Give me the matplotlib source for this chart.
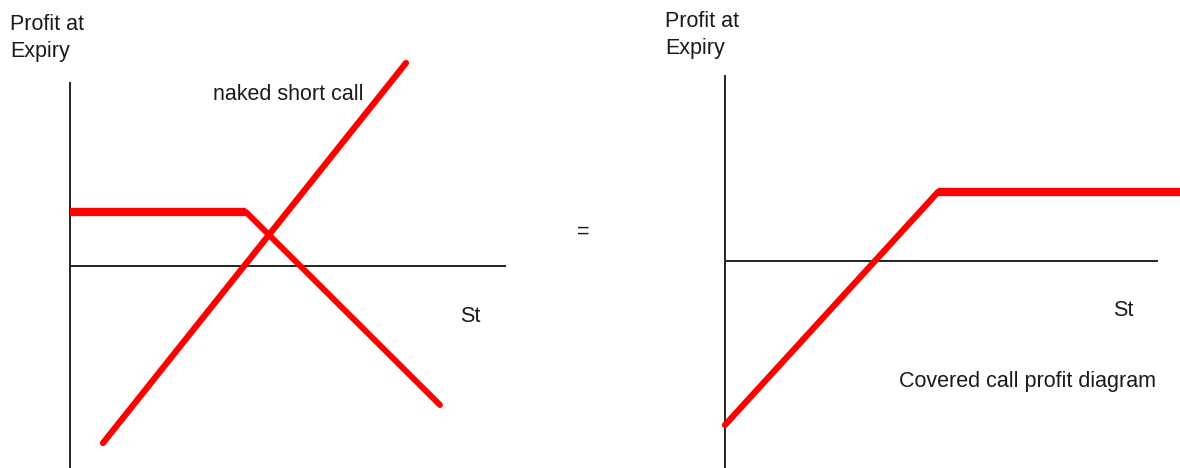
import numpy as np
import matplotlib
matplotlib.use("Agg")
import matplotlib.pyplot as plt

plt.rcParams["font.family"] = ["Liberation Sans", "DejaVu Sans"]

# values (St on x, profit at expiry on y)
short_call_x = [0.0, 17.6, 37.0]
short_call_y = [5.4, 5.4, -13.9]
stock_x = [3.3, 33.6]
stock_y = [-17.7, 20.3]
covered_x = [0.0, 21.3, 46.0]
covered_y = [-16.4, 6.9, 6.9]

W, H = 1180, 468
fig = plt.figure(figsize=(W / 100, H / 100), dpi=100)

RED = "#ff0000"
AX = "#222222"
TXT = "#1a1a1a"
FS = 15.5


def panel(x0, x1, ox, oy, ytop, xend):
    # axes covering pixel columns x0..x1, 10 px per unit, origin at (ox, oy) from top-left
    ax = fig.add_axes([x0 / W, 0, (x1 - x0) / W, 1])
    ax.set_xlim((x0 - ox) / 10, (x1 - ox) / 10)
    ax.set_ylim((oy - H) / 10, oy / 10)
    ax.axis("off")
    ax.plot([0, 0], [(oy - H) / 10, ytop], color=AX, lw=1.4, solid_capstyle="butt")
    ax.plot([0, xend], [0, 0], color=AX, lw=1.4, solid_capstyle="butt")
    return ax


# left: naked short call + long stock
axL = panel(0, 560, 70, 266, 18.4, 43.6)
axL.plot(short_call_x[:2], short_call_y[:2], color=RED, lw=6, solid_capstyle="butt")
axL.plot(short_call_x[1:], short_call_y[1:], color=RED, lw=4.3, solid_capstyle="round")
axL.plot(stock_x, stock_y, color=RED, lw=4.5, solid_capstyle="round")
axL.text(-6.0, 25.2, "Profit at\nExpiry", fontsize=FS, va="top", ha="left",
         linespacing=1.4, color=TXT)
axL.text(14.3, 17.2, "naked short call", fontsize=FS, va="center", ha="left", color=TXT)
axL.text(39.0, -5.0, "St", fontsize=FS, va="center", ha="left", color=TXT)

# right: covered call
axR = panel(560, 1180, 725, 261, 18.6, 43.3)
axR.plot(covered_x[:2], covered_y[:2], color=RED, lw=4.5, solid_capstyle="round")
axR.plot(covered_x[1:], covered_y[1:], color=RED, lw=6, solid_capstyle="butt")
axR.text(-6.0, 25.0, "Profit at\nExpiry", fontsize=FS, va="top", ha="left",
         linespacing=1.4, color=TXT)
axR.text(38.8, -4.9, "St", fontsize=FS, va="center", ha="left", color=TXT)
axR.text(17.4, -12.0, "Covered call profit diagram", fontsize=FS, va="center",
         ha="left", color=TXT)

fig.text(583 / W, 1 - 232 / H, "=", fontsize=FS, ha="center", va="center", color=TXT)

fig.savefig("out.png", dpi=100)
